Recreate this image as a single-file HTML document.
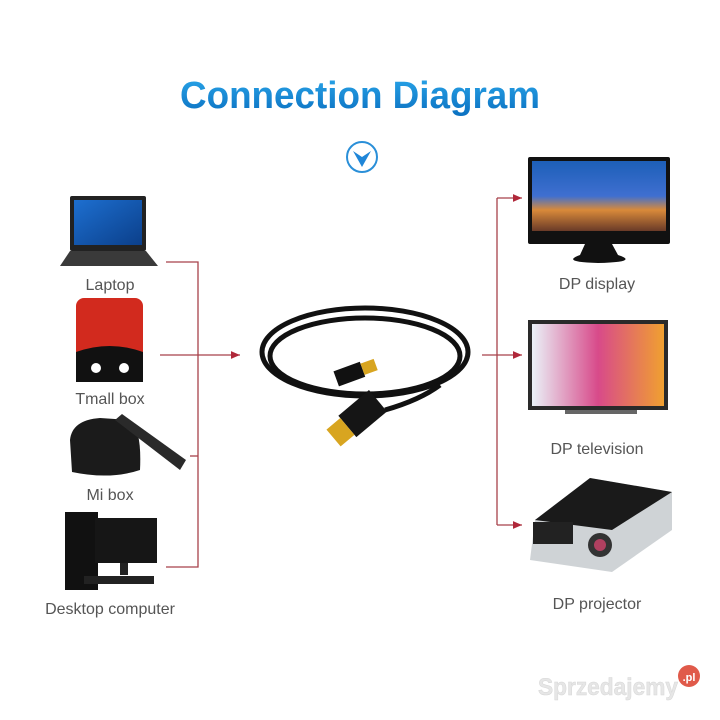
<!DOCTYPE html>
<html><head><style>
html,body{margin:0;padding:0;background:#fff;}
svg{display:block;font-family:"Liberation Sans",sans-serif;}
.lb{font-size:16px;fill:#555;text-anchor:middle;}
</style></head><body>
<svg width="720" height="720" viewBox="0 0 720 720">
<defs>
<linearGradient id="tg" x1="0" y1="0" x2="0" y2="1"><stop offset="0" stop-color="#2aa6ea"/><stop offset="1" stop-color="#0a6fc0"/></linearGradient>
<linearGradient id="scr" x1="0" y1="0" x2="0" y2="1"><stop offset="0" stop-color="#1d5fb8"/><stop offset="0.5" stop-color="#3f6fd0"/><stop offset="0.7" stop-color="#d98a3a"/><stop offset="1" stop-color="#6a3a28"/></linearGradient>
<linearGradient id="tv" x1="0" y1="0" x2="1" y2="0"><stop offset="0" stop-color="#eaf2f8"/><stop offset="0.5" stop-color="#d84a8a"/><stop offset="1" stop-color="#f0a030"/></linearGradient>
<linearGradient id="lap" x1="0" y1="0" x2="1" y2="1"><stop offset="0" stop-color="#1d6fd0"/><stop offset="1" stop-color="#0b3f8a"/></linearGradient>
<marker id="ar" markerWidth="8" markerHeight="8" refX="7" refY="4" orient="auto"><path d="M0,1 L7,4 L0,7 z" fill="#b0283a"/></marker>
</defs>
<text x="360" y="108" font-size="38" font-weight="bold" fill="url(#tg)" text-anchor="middle" textLength="360" lengthAdjust="spacingAndGlyphs">Connection Diagram</text>
<circle cx="362" cy="157" r="15" fill="none" stroke="#2a8fd8" stroke-width="2"/>
<path d="M353,151 L362,167 L371,151 L362,157 z" fill="#1f86d8"/>

<!-- left devices -->
<rect x="70" y="196" width="76" height="55" rx="2" fill="#222"/>
<rect x="74" y="200" width="68" height="45" fill="url(#lap)"/>
<path d="M70,251 L146,251 L158,266 L60,266 z" fill="#3a3a3a"/>
<text class="lb" x="110" y="290">Laptop</text>
<rect x="76" y="298" width="67" height="84" rx="8" fill="#d22a1e"/>
<path d="M76,352 Q110,340 143,352 L143,382 L76,382 z" fill="#111"/>
<circle cx="96" cy="368" r="5" fill="#fff"/><circle cx="124" cy="368" r="5" fill="#fff"/>
<text class="lb" x="110" y="404">Tmall box</text>
<path d="M70,440 Q72,420 100,418 L130,420 Q142,430 140,470 Q110,480 72,472 z" fill="#1b1b1b"/>
<path d="M115,420 L122,414 L186,460 L180,470 z" fill="#2a2a2a"/>
<text class="lb" x="110" y="500">Mi box</text>
<rect x="65" y="512" width="33" height="78" fill="#111"/>
<rect x="95" y="518" width="62" height="45" fill="#161616"/>
<rect x="120" y="563" width="8" height="12" fill="#222"/>
<rect x="84" y="576" width="70" height="8" fill="#222"/>
<text class="lb" x="110" y="614">Desktop computer</text>

<!-- left connectors -->
<g stroke="#a8424a" stroke-width="1.3" fill="none">
<path d="M166,262 H198 V567 H166"/>
<path d="M190,456 H198"/>
<path d="M160,355 H240" marker-end="url(#ar)"/>
<path d="M497,198 V525"/>
<path d="M482,355 H522" marker-end="url(#ar)"/>
<path d="M497,198 H522" marker-end="url(#ar)"/>
<path d="M497,525 H522" marker-end="url(#ar)"/>
</g>

<!-- cable -->
<g fill="none" stroke="#111" stroke-width="5">
<ellipse cx="365" cy="352" rx="103" ry="44"/>
<ellipse cx="365" cy="356" rx="95" ry="38"/>
<path d="M440,385 Q420,400 385,410"/>
</g>
<g transform="translate(355,372) rotate(-20)"><rect x="-20" y="-8" width="28" height="16" fill="#111"/><rect x="8" y="-6" width="14" height="12" fill="#d8a520"/></g>
<g transform="translate(355,420) rotate(-40)"><rect x="-10" y="-14" width="40" height="28" fill="#151515"/><rect x="-28" y="-11" width="18" height="22" fill="#d8a520"/></g>

<!-- right devices -->
<rect x="528" y="157" width="142" height="87" rx="2" fill="#111"/>
<rect x="532" y="161" width="134" height="70" fill="url(#scr)"/>
<path d="M585,244 H612 L618,255 Q640,262 598,263 Q560,262 580,255 z" fill="#111"/>
<text class="lb" x="597" y="289">DP display</text>
<rect x="528" y="320" width="140" height="90" fill="#2a2a2a"/>
<rect x="532" y="324" width="132" height="82" fill="url(#tv)"/>
<rect x="565" y="410" width="72" height="4" fill="#666"/>
<text class="lb" x="597" y="454">DP television</text>
<path d="M535,520 L590,478 L672,492 L672,530 L612,572 L530,560 z" fill="#cfd3d6"/>
<path d="M535,520 L590,478 L672,492 L612,530 z" fill="#1a1a1a"/>
<rect x="533" y="522" width="40" height="22" fill="#222"/>
<circle cx="600" cy="545" r="12" fill="#333"/><circle cx="600" cy="545" r="6" fill="#b04060"/>
<text class="lb" x="597" y="609">DP projector</text>

<text x="608" y="695" font-size="24" font-weight="bold" fill="#e6e6e6" stroke="#d6d6d6" stroke-width="0.5" text-anchor="middle" textLength="140" lengthAdjust="spacingAndGlyphs">Sprzedajemy</text>
<circle cx="689" cy="676" r="11" fill="#e05a4a"/>
<text x="689" y="681" font-size="11" fill="#fff" text-anchor="middle" font-weight="bold">.pl</text>
</svg>
</body></html>
